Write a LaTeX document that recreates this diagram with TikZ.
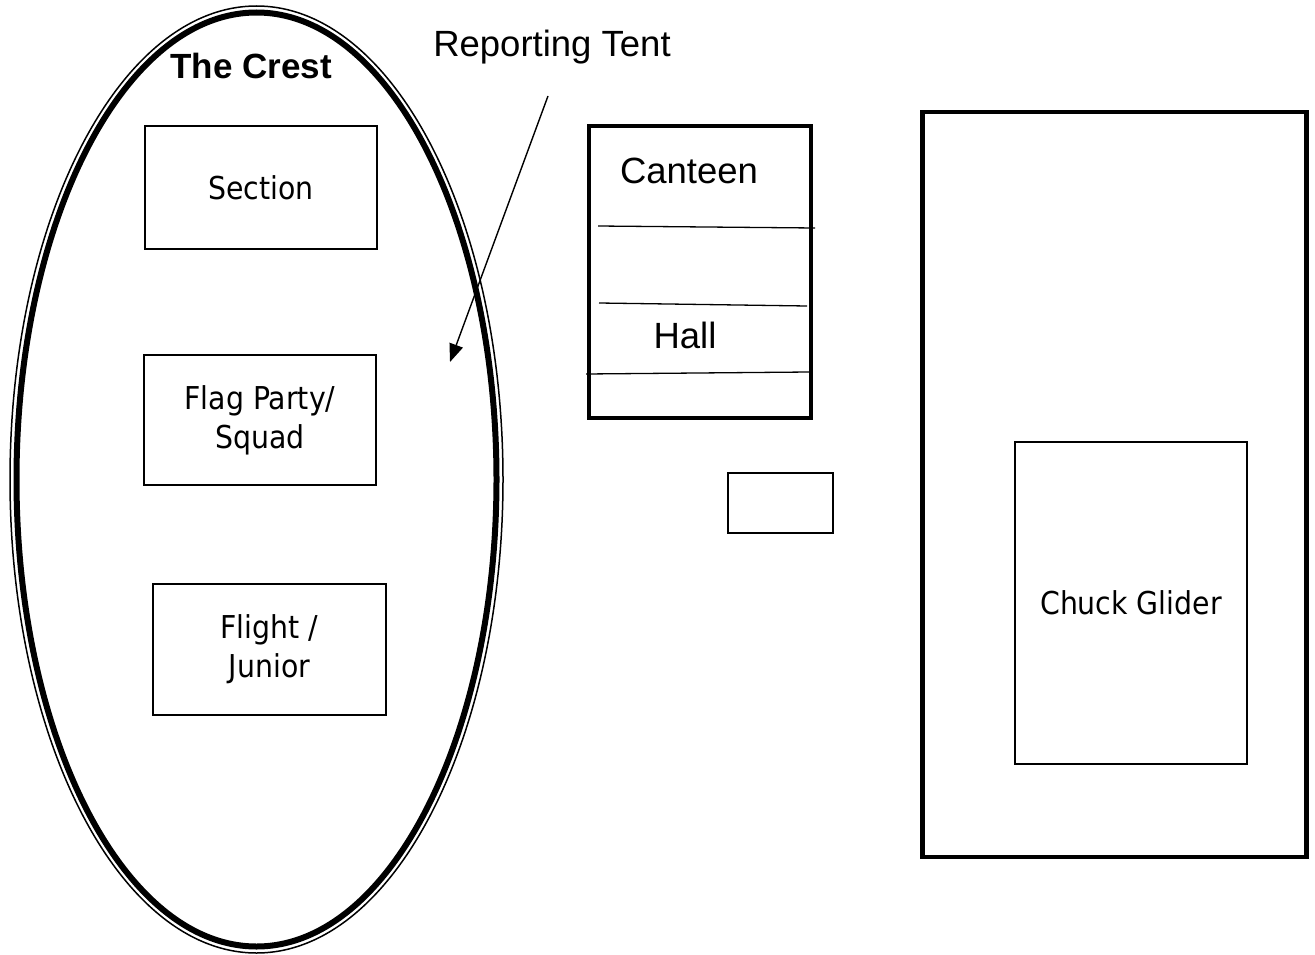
\documentclass[tikz,border=0pt]{standalone}
\usepackage{fontspec}
\setmainfont{Liberation Sans}
\newfontfamily\tahoma{DejaVu Sans Condensed}
\usetikzlibrary{arrows.meta}
\tikzset{
  room/.style={draw, line width=1.4pt, inner sep=0pt, font=\tahoma\fontsize{31.5}{39}\selectfont, align=center},
  bigroom/.style={draw, line width=4.2pt, inner sep=0pt},
  divider/.style={line width=1.3pt},
  arial/.style={inner sep=0pt, font=\fontsize{36.5}{40}\selectfont},
}
\begin{document}
\begin{tikzpicture}[x=1pt,y=-1pt]
\useasboundingbox (0,0) rectangle (1315,955);
% The Crest ellipse (double line)
\draw[line width=1.5pt] (256.5,479.5) ellipse [x radius=246.5, y radius=473.5];
\draw[line width=6pt] (256.5,479.5) ellipse [x radius=240, y radius=467];
\node[inner sep=0pt, font=\bfseries\fontsize{35}{40}\selectfont] (crest) at (251,66) {The Crest};
% boxes in the crest
\node[room, minimum width=232pt, minimum height=123pt] (section) at (261,187.5) {Section};
\node[room, minimum width=232pt, minimum height=130pt] (flag) at (260,420) {Flag Party/\\Squad};
\node[room, minimum width=233pt, minimum height=131pt] (flight) at (269.5,649.5) {Flight /\\Junior};
% Reporting tent
\node[arial] (tentlabel) at (552,47) {Reporting Tent};
\coordinate (tentstart) at (548,96);
\coordinate (tentend) at (450,362);
\draw[line width=1.4pt, -{Triangle[length=18pt,width=14pt]}] (tentstart) -- (tentend);
% Canteen / Hall block
\node[bigroom, minimum width=222pt, minimum height=292pt] (canteen) at (700,272) {};
\node[arial] (canteenlabel) at (689,171) {Canteen};
\node[arial] (halllabel) at (685,335) {Hall};
\coordinate (d1a) at (598,226); \coordinate (d1b) at (815,228);
\coordinate (d2a) at (599,303); \coordinate (d2b) at (807,306);
\coordinate (d3a) at (586,374); \coordinate (d3b) at (809,372);
\draw[divider] (d1a) -- (d1b);
\draw[divider] (d2a) -- (d2b);
\draw[divider] (d3a) -- (d3b);
% small box
\node[draw, line width=2pt, minimum width=105pt, minimum height=60pt, inner sep=0pt] (small) at (780.5,503) {};
% Chuck glider field
\node[bigroom, minimum width=384pt, minimum height=745pt] (field) at (1114.5,484.5) {};
\node[room, minimum width=232pt, minimum height=322pt] (chuck) at (1131,603) {Chuck Glider};
\end{tikzpicture}
\end{document}
